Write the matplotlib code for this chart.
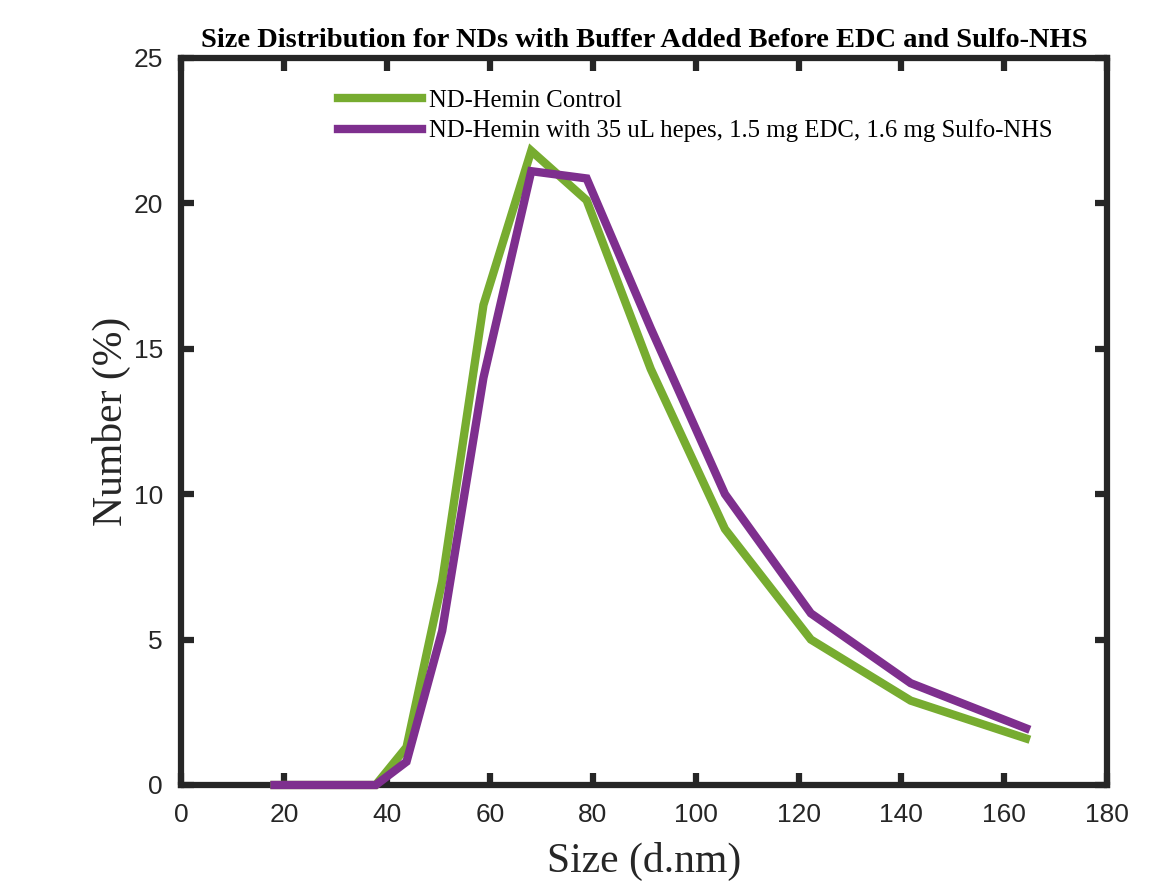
import matplotlib
matplotlib.use("Agg")
import matplotlib.pyplot as plt

# DLS size bins (d.nm) and number distribution (%)
size_nm = [18.17, 21.04, 24.36, 28.21, 32.67, 37.84, 43.82, 50.75, 58.77,
           68.06, 78.82, 91.28, 105.7, 122.4, 141.8, 164.2]
control = [0, 0, 0, 0, 0, 0, 1.3, 7.0, 16.5, 21.8, 20.1, 14.3, 8.8, 5.0, 2.9, 1.6]
treated = [0, 0, 0, 0, 0, 0, 0.8, 5.3, 14.0, 21.1, 20.85, 15.7, 10.0, 5.9, 3.5, 1.95]

labels = ["ND-Hemin Control",
          "ND-Hemin with 35 uL hepes, 1.5 mg EDC, 1.6 mg Sulfo-NHS"]
green = "#77AC30"
purple = "#7E2F8E"
axcol = "#262626"

fig = plt.figure(figsize=(11.68, 8.88), dpi=100)
ax = fig.add_axes([0.155, 0.116, 0.793, 0.819])

# lines sit on top of the axis box, like the MATLAB original
ax.plot(size_nm, control, color=green, lw=6, label=labels[0],
        solid_joinstyle="miter", zorder=3, clip_on=False)
ax.plot(size_nm, treated, color=purple, lw=6, label=labels[1],
        solid_joinstyle="miter", zorder=3, clip_on=False)

ax.set_xlim(0, 180)
ax.set_ylim(0, 25)
ax.set_xticks(range(0, 181, 20))
ax.set_yticks(range(0, 26, 5))

for s in ax.spines.values():
    s.set_linewidth(4.5)
    s.set_color(axcol)
    s.set_zorder(2.5)
ax.tick_params(direction="in", length=9, width=4.5, color=axcol,
               top=True, right=True, labelsize=19, labelcolor=axcol, pad=13)
for lab in ax.get_xticklabels() + ax.get_yticklabels():
    lab.set_family("Liberation Sans")

ax.set_xlabel("Size (d.nm)", family="Liberation Serif", fontsize=30, color=axcol, labelpad=11)
ax.set_ylabel("Number (%)", family="Liberation Serif", fontsize=30, color=axcol, labelpad=2)
ax.set_title("Size Distribution for NDs with Buffer Added Before EDC and Sulfo-NHS",
             family="Liberation Serif", fontweight="bold", fontsize=20.5, pad=8)

leg = ax.legend(loc="upper left", bbox_to_anchor=(0.169, 0.956), frameon=False,
                prop={"family": "Liberation Serif", "size": 17.8},
                handlelength=3.4, handletextpad=0.3, labelspacing=0.3,
                borderpad=0, borderaxespad=0)

fig.savefig("out.png", dpi=100)
